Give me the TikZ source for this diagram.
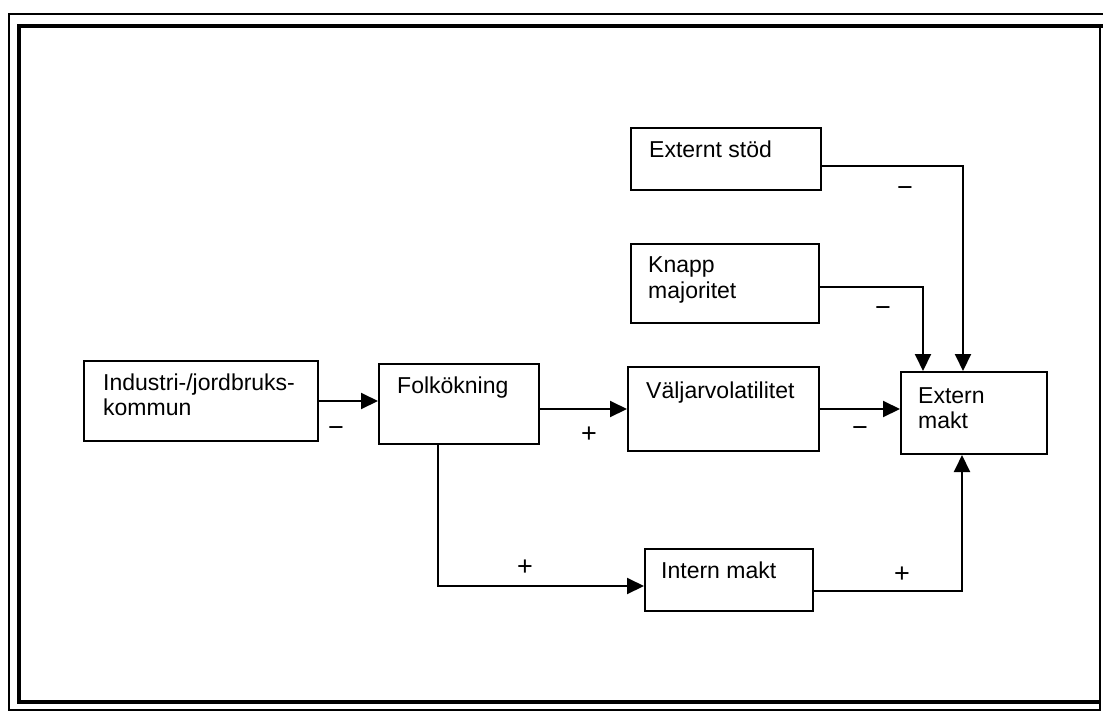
\documentclass[tikz,border=0pt]{standalone}
\usepackage{fontspec}
\setmainfont{Liberation Sans}
\usetikzlibrary{arrows.meta}
\begin{document}
\begin{tikzpicture}[x=1pt,y=-1pt,
  box/.style={draw, line width=2pt, inner sep=0pt, anchor=north west},
  txt/.style={anchor=base west, inner sep=0pt, font=\fontsize{23}{25}\selectfont},
  sgn/.style={inner sep=0pt, font=\fontsize{27}{30}\selectfont},
  conn/.style={line width=2pt, -{Triangle[length=17pt,width=16pt]}},
  thinframe/.style={line width=1.6pt},
  thickframe/.style={line width=4pt},
]
\useasboundingbox (0,0) rectangle (1103,715);
% frame
\draw[thinframe] (1103,14) -- (9,14) -- (9,710) -- (1100,710) -- (1100,26);
\draw[thickframe] (1103,26) -- (19,26) -- (19,702) -- (1100,702);

% boxes
\node[box, minimum width=234pt, minimum height=80pt] (ind) at (83,360) {};
\node[box, minimum width=160pt, minimum height=80pt] (fol) at (378,363) {};
\node[box, minimum width=191pt, minimum height=84pt] (val) at (627,366) {};
\node[box, minimum width=146pt, minimum height=82pt] (ext) at (900,371) {};
\node[box, minimum width=190pt, minimum height=62pt] (sto) at (630,127) {};
\node[box, minimum width=188pt, minimum height=79pt] (kna) at (630,243) {};
\node[box, minimum width=168pt, minimum height=62pt] (int) at (644,548) {};

% texts
\node[txt] (ind-a) at (103,390) {Industri-/jordbruks-};
\node[txt] (ind-b) at (103,415) {kommun};
\node[txt] (fol-a) at (397,393) {Folkökning};
\node[txt] (val-a) at (646,398) {Väljarvolatilitet};
\node[txt] (ext-a) at (918,403) {Extern};
\node[txt] (ext-b) at (918,428) {makt};
\node[txt] (sto-a) at (649,157) {Externt stöd};
\node[txt] (kna-a) at (648,272) {Knapp};
\node[txt] (kna-b) at (648,298) {majoritet};
\node[txt] (int-a) at (661,578) {Intern makt};

% connectors
\draw[conn] (ind.east) -- (ind.east -| fol.west);
\draw[conn] (fol.east |- val.west) -- (val.west);
\draw[conn] (val.east) -- (val.east -| ext.west);
\draw[conn] ([yshift=-7pt]sto.east) -| ([xshift=63pt]ext.north west);
\draw[conn] ([yshift=-3pt]kna.east) -| ([xshift=23pt]ext.north west);
\draw[conn] ([xshift=60pt]fol.south west) |- ([yshift=-6pt]int.west);
\draw[conn] ([yshift=-11pt]int.east) -| ([xshift=62pt]ext.south west);

% signs
\node[sgn] (s1) at (336,432) {−};
\node[sgn] (s2) at (589,435) {+};
\node[sgn] (s3) at (860,432) {−};
\node[sgn] (s4) at (883,312) {−};
\node[sgn] (s5) at (905,192) {−};
\node[sgn] (s6) at (525,568) {+};
\node[sgn] (s7) at (902,575) {+};
\end{tikzpicture}
\end{document}
